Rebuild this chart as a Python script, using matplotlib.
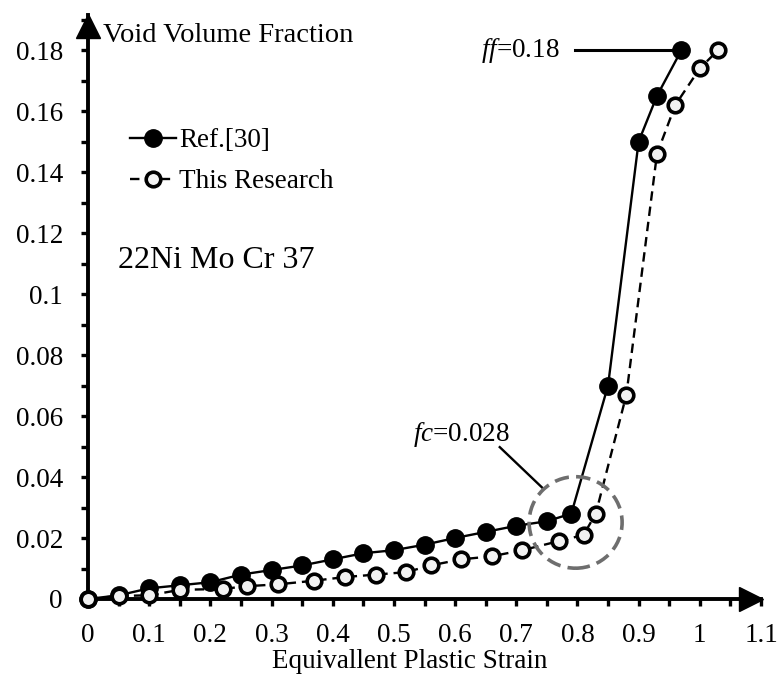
import matplotlib
matplotlib.use("Agg")
import matplotlib.pyplot as plt
from matplotlib.patches import Ellipse
from matplotlib.ticker import MultipleLocator

plt.rcParams['font.family'] = ['Liberation Serif', 'DejaVu Serif']
plt.rcParams['mathtext.fontset'] = 'custom'
plt.rcParams['mathtext.it'] = 'Liberation Serif:italic'
plt.rcParams['mathtext.rm'] = 'Liberation Serif'

# Data
ref_x = [0, 0.05, 0.1, 0.15, 0.2, 0.25, 0.3, 0.35, 0.4, 0.45, 0.5, 0.55, 0.6,
         0.65, 0.7, 0.75, 0.79, 0.85, 0.9, 0.93, 0.97]
ref_y = [0, 0.0012, 0.0035, 0.0045, 0.0055, 0.008, 0.0095, 0.011, 0.013, 0.015,
         0.016, 0.0178, 0.02, 0.022, 0.024, 0.0255, 0.028, 0.07, 0.15, 0.165, 0.18]
res_x = [0, 0.05, 0.1, 0.15, 0.22, 0.26, 0.31, 0.37, 0.42, 0.47, 0.52, 0.56,
         0.61, 0.66, 0.71, 0.77, 0.81, 0.83, 0.88, 0.93, 0.96, 1.0, 1.03]
res_y = [0, 0.001, 0.0012, 0.003, 0.0033, 0.0042, 0.0048, 0.006, 0.0072, 0.008,
         0.0088, 0.011, 0.013, 0.014, 0.016, 0.019, 0.021, 0.028, 0.067, 0.146,
         0.162, 0.174, 0.18]
x_ticks = [0, 0.1, 0.2, 0.3, 0.4, 0.5, 0.6, 0.7, 0.8, 0.9, 1.0, 1.1]
x_labels = ['0', '0.1', '0.2', '0.3', '0.4', '0.5', '0.6', '0.7', '0.8', '0.9', '1', '1.1']
y_ticks = [0, 0.02, 0.04, 0.06, 0.08, 0.1, 0.12, 0.14, 0.16, 0.18]
y_labels = ['0', '0.02', '0.04', '0.06', '0.08', '0.1', '0.12', '0.14', '0.16', '0.18']
labels = ['Ref.[30]', 'This Research']
fc_value = 0.028
ff_value = 0.18

W, H = 778, 677
fig = plt.figure(figsize=(W / 100, H / 100), dpi=100)
ax = fig.add_axes([88 / W, 78 / H, 673 / W, 584 / H])
ax.set_xlim(0, 1.1)
ax.set_ylim(0, 0.1915)

for s in ['top', 'right']:
    ax.spines[s].set_visible(False)
for s in ['left', 'bottom']:
    ax.spines[s].set_linewidth(2.8)

ax.set_xticks(x_ticks)
ax.set_xticklabels(x_labels)
ax.set_yticks(y_ticks)
ax.set_yticklabels(y_labels)
ax.xaxis.set_minor_locator(MultipleLocator(0.05))
ax.yaxis.set_minor_locator(MultipleLocator(0.01))
ax.tick_params(axis='both', which='both', direction='out', length=5, width=2.4,
               labelsize=19.5, colors='black')
ax.tick_params(axis='x', which='major', pad=12)
ax.tick_params(axis='y', which='major', pad=13)

# axis arrows
ax.plot(1.083, 0, marker='>', markersize=17, color='black',
        transform=ax.get_xaxis_transform(), clip_on=False)
ax.plot(0, 0.1879, marker='^', markersize=17, color='black',
        transform=ax.get_yaxis_transform(), clip_on=False)

ax.plot(ref_x, ref_y, '-', color='black', lw=1.7, marker='o', markersize=12.5,
        markerfacecolor='black', markeredgecolor='black', clip_on=False,
        zorder=4, label=labels[0])
ax.plot(res_x, res_y, '--', color='black', lw=1.7, dashes=(4, 2.5), marker='o',
        markersize=10.5, markerfacecolor='#f2f2f2', markeredgecolor='black',
        markeredgewidth=2.6, clip_on=False, zorder=5, label=labels[1])

# dashed circle
ell = Ellipse((0.797, 0.0251), 0.152, 0.030, fill=False, edgecolor='#6e6e6e',
              lw=2.6, linestyle=(0, (4, 2)), zorder=6)
ax.add_patch(ell)

# annotations
ax.text(0.532, 0.0538, r'$\mathit{fc}$=' + f'{fc_value:g}', fontsize=19.5,
        va='center', ha='left')
ax.plot([0.673, 0.743], [0.0498, 0.0364], color='black', lw=1.7)
ax.text(0.642, ff_value, r'$\mathit{ff}$=' + f'{ff_value:g}', fontsize=19.5,
        va='center', ha='left')
ax.plot([0.796, 0.96], [ff_value, ff_value], color='black', lw=2.2, zorder=3)

ax.text(0.0245, 0.1849, 'Void Volume Fraction', fontsize=20.5, va='center', ha='left')
ax.text(0.049, 0.111, '22Ni Mo Cr 37', fontsize=23, va='center', ha='left')

fig.text(410 / W, 1 - 662 / H, 'Equivallent Plastic Strain', fontsize=19.5,
         ha='center', va='center')

ax.legend(loc='upper left', bbox_to_anchor=(130 / W, 1 - 128 / H),
          bbox_transform=fig.transFigure, frameon=False, fontsize=19.5,
          handlelength=1.7, handletextpad=0.12, labelspacing=0.6,
          borderpad=0, borderaxespad=0)

fig.savefig('out.png', dpi=100)
